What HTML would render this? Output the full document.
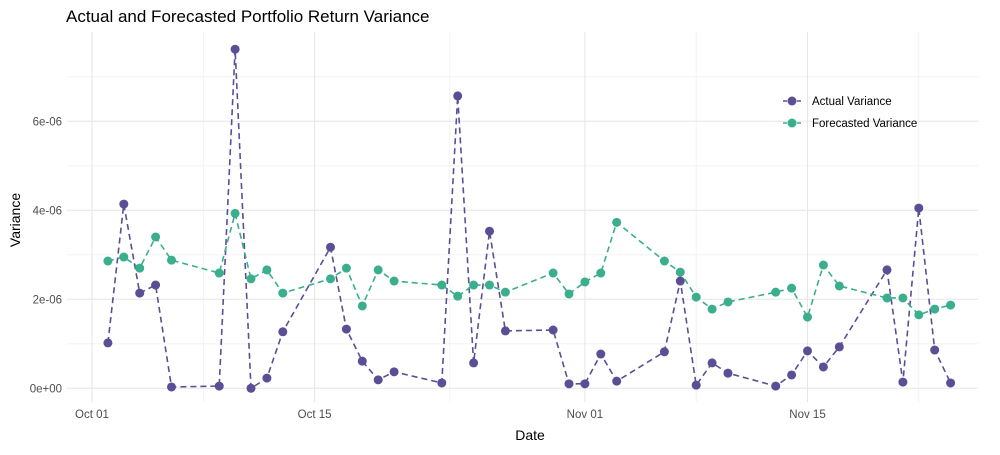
<!DOCTYPE html>
<html><head><meta charset="utf-8"><style>
body{margin:0;background:#fff;font-family:"Liberation Sans",sans-serif}
svg text{font-family:"Liberation Sans",sans-serif}
</style></head><body>
<svg id="chart" width="1000" height="450">
<rect width="1000" height="450" fill="#fff"/>
<text x="66" y="22" font-size="17" fill="#000">Actual and Forecasted Portfolio Return Variance</text>
<g id="grid"></g><g id="axes"></g><g id="series"></g>
<text x="530" y="440" font-size="14" text-anchor="middle">Date</text>
<text transform="translate(20,220) rotate(-90)" font-size="14" text-anchor="middle">Variance</text>
<g>
<g><line x1="783" y1="101" x2="801" y2="101" stroke="#5B4E95" stroke-width="1.5" stroke-dasharray="4,3"/><circle cx="792" cy="101" r="4.5" fill="#5B4E95"/><text x="812" y="105" font-size="11.5">Actual Variance</text></g>
<g><line x1="783" y1="123" x2="801" y2="123" stroke="#3BAE8D" stroke-width="1.5" stroke-dasharray="4,3"/><circle cx="792" cy="123" r="4.5" fill="#3BAE8D"/><text x="812" y="127" font-size="11.5">Forecasted Variance</text></g>
</g>
</svg>
<script>
const dayOffsets=[1,2,3,4,5,8,9,10,11,12,15,16,17,18,19,22,23,24,25,26,29,30,31,32,33,36,37,38,39,40,43,44,45,46,47,50,51,52,53,54];
const actual=[1.02,4.14,2.14,2.32,0.03,0.05,7.62,0.0,0.23,1.27,3.17,1.33,0.61,0.19,0.37,0.12,6.57,0.57,3.53,1.29,1.31,0.1,0.1,0.77,0.16,0.82,2.41,0.07,0.57,0.34,0.05,0.3,0.84,0.48,0.93,2.66,0.14,4.05,0.86,0.12];
const forecast=[2.86,2.95,2.7,3.4,2.88,2.59,3.93,2.46,2.66,2.14,2.46,2.7,1.85,2.66,2.41,2.32,2.07,2.32,2.32,2.16,2.59,2.12,2.39,2.59,3.73,2.86,2.61,2.05,1.78,1.94,2.16,2.25,1.6,2.77,2.3,2.03,2.03,1.65,1.78,1.87];
const xTickDays=[0,14,31,45];
const xTickLabels=["Oct 01","Oct 15","Nov 01","Nov 15"];
const yTicks=[0,2,4,6];
const yTickLabels=["0e+00","2e-06","4e-06","6e-06"];
const NS="http://www.w3.org/2000/svg";
const X=d=>92+d*15.9, Y=v=>388.3-v*44.5;
const L=67,R=978,T=32,B=402;
function mk(tag,attrs,parent){const e=document.createElementNS(NS,tag);for(const k in attrs)e.setAttribute(k,attrs[k]);parent.appendChild(e);return e;}
const grid=document.getElementById('grid'),axes=document.getElementById('axes'),series=document.getElementById('series');
[1,3,5,7].forEach(v=>{const l=mk('line',{x1:L,x2:R,y1:Y(v),y2:Y(v),stroke:'#f0f0f0','stroke-width':0.8},grid);

});
[7,22.5,38,52].forEach(d=>{const l=mk('line',{x1:X(d),x2:X(d),y1:T,y2:B,stroke:'#f0f0f0','stroke-width':0.8},grid);

});
yTicks.forEach((v,i)=>{const l=mk('line',{x1:L,x2:R,y1:Y(v),y2:Y(v),stroke:'#e6e6e6','stroke-width':1},grid);


const t=mk('text',{x:L-5,y:Y(v)+4,'font-size':11.5,'text-anchor':'end',fill:'#4d4d4d'},axes);t.textContent=yTickLabels[i];

});
xTickDays.forEach((d,i)=>{const l=mk('line',{x1:X(d),x2:X(d),y1:T,y2:B,stroke:'#e6e6e6','stroke-width':1},grid);


const t=mk('text',{x:X(d),y:B+16,'font-size':11.5,'text-anchor':'middle',fill:'#4d4d4d'},axes);t.textContent=xTickLabels[i];

});
function draw(vals,color,name){
const p=mk('polyline',{points:vals.map((v,i)=>X(dayOffsets[i])+','+Y(v)).join(' '),fill:'none',stroke:color,'stroke-width':1.6,'stroke-dasharray':'6,4'},series);


vals.forEach((v,i)=>{const c=mk('circle',{cx:X(dayOffsets[i]),cy:Y(v),r:4.5,fill:color},series);

});}
draw(actual,'#5B4E95','actual');
draw(forecast,'#3BAE8D','forecast');
</script>
</body></html>
